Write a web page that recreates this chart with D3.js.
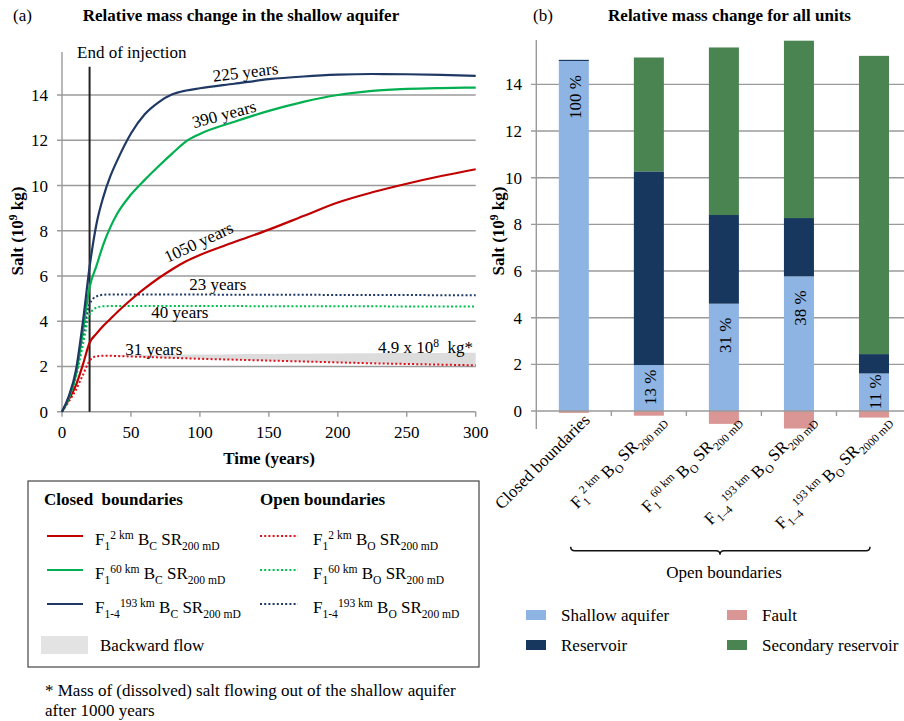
<!DOCTYPE html>
<html><head><meta charset="utf-8">
<script src="https://cdn.jsdelivr.net/npm/d3@7"></script>
<style>
body{margin:0;background:#fff}
svg{display:block}
text{font-family:"Liberation Serif","Times New Roman",serif;fill:#000;white-space:pre}
</style>
</head><body><svg id="c" width="904" height="721"></svg>
<script>
// ---------- DATA (a): salt mass in shallow aquifer, 10^9 kg ----------
const years        = [0, 5, 10, 15, 20, 25, 30, 35, 40, 50, 60, 70, 80, 90, 100, 125, 150, 175, 200, 225, 250, 275, 300];
const closed2km    = [0, 0.55, 1.15, 2.05, 3.05, 3.45, 3.8, 4.1, 4.4, 4.95, 5.45, 5.9, 6.3, 6.65, 6.93, 7.5, 8.05, 8.65, 9.25, 9.7, 10.08, 10.42, 10.72];
const closed60km   = [0, 0.6, 1.6, 3.5, 5.5, 6.45, 7.4, 8.15, 8.75, 9.6, 10.25, 10.85, 11.42, 11.95, 12.28, 12.82, 13.3, 13.7, 14.0, 14.18, 14.27, 14.31, 14.33];
const closed193km  = [0, 0.7, 1.8, 3.9, 6.4, 8.3, 9.5, 10.4, 11.1, 12.3, 13.15, 13.68, 14.03, 14.2, 14.3, 14.5, 14.7, 14.82, 14.9, 14.93, 14.92, 14.89, 14.85];
const open2km      = [0, 0.45, 0.95, 1.6, 2.25, 2.45, 2.47, 2.47, 2.46, 2.44, 2.42, 2.4, 2.38, 2.36, 2.34, 2.3, 2.26, 2.22, 2.18, 2.14, 2.11, 2.08, 2.05];
const open60km     = [0, 0.6, 1.5, 2.9, 4.3, 4.6, 4.66, 4.67, 4.67, 4.67, 4.67, 4.67, 4.67, 4.67, 4.67, 4.67, 4.66, 4.66, 4.66, 4.66, 4.65, 4.65, 4.65];
const open193km    = [0, 0.65, 1.7, 3.3, 4.75, 5.1, 5.17, 5.18, 5.18, 5.18, 5.18, 5.18, 5.18, 5.18, 5.18, 5.17, 5.17, 5.17, 5.16, 5.16, 5.16, 5.15, 5.15];
const backwardTop  = [null, null, null, null, null, null, 2.49, 2.5, 2.5, 2.51, 2.51, 2.52, 2.52, 2.53, 2.53, 2.54, 2.55, 2.56, 2.57, 2.58, 2.59, 2.6, 2.61];
const xTicksA      = [0, 50, 100, 150, 200, 250, 300];
const yTicksA      = [0, 2, 4, 6, 8, 10, 12, 14];
const injectionEnd = 20;

// ---------- DATA (b): relative mass change for all units, 10^9 kg ----------
const categories      = ["Closed boundaries", "F1 2km BO SR200", "F1 60km BO SR200", "F1-4 193km BO SR200", "F1-4 193km BO SR2000"];
const shallowAquifer  = [15.0, 1.97, 4.6, 5.77, 1.61];
const reservoir       = [0.05, 8.3, 3.8, 2.5, 0.83];
const secondaryRes    = [0, 4.88, 7.18, 7.6, 12.78];
const fault           = [-0.08, -0.2, -0.55, -0.75, -0.28];
const shallowPercent  = ["100 %", "13 %", "31 %", "38 %", "11 %"];
const yTicksB         = [0, 2, 4, 6, 8, 10, 12, 14];

// rich-text parts for category labels
const categoryParts = [
  [{t:"Closed boundaries"}],
  [{t:"F"},{t:"1",s:"sub"},{t:"2 km",s:"sup"},{t:" B"},{t:"O",s:"sub"},{t:" SR"},{t:"200 mD",s:"sub"}],
  [{t:"F"},{t:"1",s:"sub"},{t:"60 km",s:"sup"},{t:" B"},{t:"O",s:"sub"},{t:" SR"},{t:"200 mD",s:"sub"}],
  [{t:"F"},{t:"1–4",s:"sub"},{t:"193 km",s:"sup"},{t:" B"},{t:"O",s:"sub"},{t:" SR"},{t:"200 mD",s:"sub"}],
  [{t:"F"},{t:"1–4",s:"sub"},{t:"193 km",s:"sup"},{t:" B"},{t:"O",s:"sub"},{t:" SR"},{t:"2000 mD",s:"sub"}]
];

// ---------- helpers ----------
const svg = d3.select("#c");
const GRID = "#9a9a9a";
const FS = 17;
function rich(t, parts, size){
  let off = 0;
  parts.forEach(p => {
    const target = p.s === "sub" ? 0.28*size : p.s === "sup" ? -0.38*size : 0;
    t.append("tspan").attr("dy", (target - off).toFixed(2))
      .attr("font-size", p.s ? size*0.68 : size).text(p.t);
    off = target;
  });
  return t;
}

// ================= PANEL (a) =================
const xA = d3.scaleLinear().domain([0, 300]).range([62, 475.7]);
const yA = d3.scaleLinear().domain([0, 16]).range([411.7, 49.8]);
const gA = svg.append("g");

gA.append("text").attr("x", 13).attr("y", 21).attr("font-size", FS).text("(a)");
gA.append("text").attr("x", 241).attr("y", 21).attr("text-anchor", "middle")
  .attr("font-size", FS).attr("font-weight", "bold").text("Relative mass change in the shallow aquifer");

// gridlines
gA.selectAll(".gy").data(yTicksA.filter(d => d > 0)).join("line")
  .attr("x1", 57).attr("x2", xA(300)).attr("y1", d => yA(d)).attr("y2", d => yA(d))
  .attr("stroke", GRID).attr("stroke-width", 1.4);
// axes
gA.append("line").attr("x1", xA(0)).attr("x2", xA(0)).attr("y1", 52).attr("y2", yA(0))
  .attr("stroke", GRID).attr("stroke-width", 1.4);
gA.append("line").attr("x1", 57).attr("x2", xA(300)).attr("y1", yA(0)).attr("y2", yA(0))
  .attr("stroke", GRID).attr("stroke-width", 1.4);
gA.selectAll(".tx").data(xTicksA).join("line")
  .attr("x1", d => xA(d)).attr("x2", d => xA(d)).attr("y1", yA(0)).attr("y2", yA(0) + 5)
  .attr("stroke", GRID).attr("stroke-width", 1.4);
gA.selectAll(".lx").data(xTicksA).join("text")
  .attr("x", d => xA(d)).attr("y", 437.5).attr("text-anchor", "middle").attr("font-size", FS).text(d => d);
gA.selectAll(".ly").data(yTicksA).join("text")
  .attr("x", 48).attr("y", d => yA(d) + 6).attr("text-anchor", "end").attr("font-size", FS).text(d => d);
gA.append("text").attr("x", 269).attr("y", 464).attr("text-anchor", "middle")
  .attr("font-size", FS).attr("font-weight", "bold").text("Time (years)");
rich(gA.append("text").attr("transform", "translate(23,231) rotate(-90)").attr("text-anchor", "middle")
  .attr("font-weight", "bold"), [{t:"Salt (10"},{t:"9",s:"sup"},{t:" kg)"}], FS);

// backward-flow band
const bandArea = d3.area()
  .defined((d, i) => backwardTop[i] !== null)
  .x((d, i) => xA(years[i])).y0((d, i) => yA(open2km[i])).y1((d, i) => yA(backwardTop[i]))
  .curve(d3.curveMonotoneX);
gA.append("path").datum(years).attr("d", bandArea).attr("fill", "#dcdcdc");

// end of injection line
gA.append("line").attr("x1", xA(injectionEnd)).attr("x2", xA(injectionEnd)).attr("y1", 66.7).attr("y2", yA(0))
  .attr("stroke", "#222").attr("stroke-width", 2);
gA.append("text").attr("x", 77).attr("y", 58).attr("font-size", FS).text("End of injection");

const line = vals => d3.line().x((d, i) => xA(years[i])).y(d => yA(d)).curve(d3.curveMonotoneX)(vals);
const series = [
  {v: open2km,     c: "#e0101a", dash: true},
  {v: open60km,    c: "#00c050", dash: true},
  {v: open193km,   c: "#1f3a68", dash: true},
  {v: closed2km,   c: "#c00000", dash: false},
  {v: closed60km,  c: "#00b050", dash: false},
  {v: closed193km, c: "#1f3864", dash: false}
];
gA.selectAll(".ser").data(series).join("path")
  .attr("d", d => line(d.v)).attr("fill", "none").attr("stroke", d => d.c)
  .attr("stroke-width", d => d.dash ? 2 : 2.2)
  .attr("stroke-dasharray", d => d.dash ? "2,2.2" : null);

// annotations
const ann = [
  {t: "225 years",  x: 133, y: 15.02, r: -7},
  {t: "390 years",  x: 117.5, y: 13.16, r: -15},
  {t: "1050 years", x: 99, y: 7.5, r: -25},
  {t: "23 years",   x: 113, y: 5.65, r: 0},
  {t: "40 years",   x: 85.5, y: 4.4, r: 0},
  {t: "31 years",   x: 66.5, y: 2.79, r: 0}
];
gA.selectAll(".ann").data(ann).join("text")
  .attr("transform", d => `translate(${xA(d.x)},${yA(d.y)}) rotate(${d.r})`)
  .attr("text-anchor", "middle").attr("dy", "0.35em").attr("font-size", FS).text(d => d.t);
rich(gA.append("text").attr("x", 378).attr("y", 353).attr("font-size", FS),
  [{t:"4.9 x 10"},{t:"8",s:"sup"},{t:"  kg*"}], FS);

// legend box (a)
gA.append("rect").attr("x", 28).attr("y", 481).attr("width", 451).attr("height", 186)
  .attr("fill", "none").attr("stroke", "#444").attr("stroke-width", 1.2);
gA.append("text").attr("x", 44).attr("y", 505).attr("font-size", FS).attr("font-weight", "bold").text("Closed  boundaries");
gA.append("text").attr("x", 260).attr("y", 505).attr("font-size", FS).attr("font-weight", "bold").text("Open boundaries");
const legA = [
  {c: "#c00000", f: "1", k: "2 km"},
  {c: "#00b050", f: "1", k: "60 km"},
  {c: "#1f3864", f: "1-4", k: "193 km"}
];
legA.forEach((d, i) => {
  const ly = 536 + i * 34;
  gA.append("line").attr("x1", 47).attr("x2", 83).attr("y1", ly).attr("y2", ly).attr("stroke", d.c).attr("stroke-width", 2.2);
  rich(gA.append("text").attr("x", 95).attr("y", ly + 9),
    [{t:"F"},{t:d.f,s:"sub"},{t:d.k,s:"sup"},{t:" B"},{t:"C",s:"sub"},{t:" SR"},{t:"200 mD",s:"sub"}], FS);
  gA.append("line").attr("x1", 260).attr("x2", 298).attr("y1", ly).attr("y2", ly).attr("stroke", series[i].c)
    .attr("stroke-width", 2).attr("stroke-dasharray", "2,2.2");
  rich(gA.append("text").attr("x", 313).attr("y", ly + 9),
    [{t:"F"},{t:d.f,s:"sub"},{t:d.k,s:"sup"},{t:" B"},{t:"O",s:"sub"},{t:" SR"},{t:"200 mD",s:"sub"}], FS);
});
gA.append("rect").attr("x", 41).attr("y", 636).attr("width", 47).attr("height", 18).attr("fill", "#e3e3e3");
gA.append("text").attr("x", 100).attr("y", 651).attr("font-size", FS).text("Backward flow");
gA.append("text").attr("x", 45).attr("y", 696).attr("font-size", FS).text("* Mass of (dissolved) salt flowing out of the shallow aquifer");
gA.append("text").attr("x", 45).attr("y", 716).attr("font-size", FS).text("after 1000 years");

// ================= PANEL (b) =================
const xB = d3.scaleBand().domain(categories).range([536.3, 911.5]).paddingInner(0.6).paddingOuter(0.3);
const yB = d3.scaleLinear().domain([-0.77, 15.9]).range([429, 40]);
const gB = svg.append("g");

gB.append("text").attr("x", 533).attr("y", 21).attr("font-size", FS).text("(b)");
gB.append("text").attr("x", 729.5).attr("y", 21).attr("text-anchor", "middle")
  .attr("font-size", FS).attr("font-weight", "bold").text("Relative mass change for all units");

gB.selectAll(".gy").data(yTicksB.filter(d => d > 0)).join("line")
  .attr("x1", 531).attr("x2", 904).attr("y1", d => yB(d)).attr("y2", d => yB(d))
  .attr("stroke", GRID).attr("stroke-width", 1.4);
gB.selectAll(".ly").data(yTicksB).join("text")
  .attr("x", 522).attr("y", d => yB(d) + 6).attr("text-anchor", "end").attr("font-size", FS).text(d => d);
rich(gB.append("text").attr("transform", "translate(504,231) rotate(-90)").attr("text-anchor", "middle")
  .attr("font-weight", "bold"), [{t:"Salt (10"},{t:"9",s:"sup"},{t:" kg)"}], FS);

// stacked bars
const rows = categories.map((c, i) => ({cat: c, shallow: shallowAquifer[i], reservoir: reservoir[i], secondary: secondaryRes[i], fault: fault[i]}));
const keys = ["shallow", "reservoir", "secondary", "fault"];
const colors = {shallow: "#8eb4e3", reservoir: "#17375e", secondary: "#4a8450", fault: "#d99694"};
const stacked = d3.stack().keys(keys).offset(d3.stackOffsetDiverging)(rows);
gB.selectAll(".layer").data(stacked).join("g").attr("fill", d => colors[d.key])
  .selectAll("rect").data(d => d).join("rect")
  .attr("x", d => xB(d.data.cat)).attr("width", xB.bandwidth())
  .attr("y", d => yB(Math.max(d[0], d[1]))).attr("height", d => Math.abs(yB(d[0]) - yB(d[1])));

// axes b
gB.append("line").attr("x1", 536.3).attr("x2", 536.3).attr("y1", 40).attr("y2", 429).attr("stroke", GRID).attr("stroke-width", 1.4);
gB.append("line").attr("x1", 531).attr("x2", 904).attr("y1", yB(0)).attr("y2", yB(0)).attr("stroke", GRID).attr("stroke-width", 1.4);
gB.selectAll(".tk").data(categories.slice(1)).join("line")
  .attr("x1", d => xB(d) - xB.step() * 0.3).attr("x2", d => xB(d) - xB.step() * 0.3)
  .attr("y1", yB(0)).attr("y2", yB(0) + 5).attr("stroke", GRID).attr("stroke-width", 1.4);

// percent labels
gB.selectAll(".pct").data(rows).join("text")
  .attr("transform", (d, i) => {
    const top = yB(d.shallow);
    const segH = yB(0) - top;
    const off = Math.max(1, Math.min(14, (segH - 37) / 2));
    return `translate(${xB(d.cat) + xB.bandwidth() / 2 + 7},${top + off}) rotate(-90)`;
  })
  .attr("text-anchor", "end").attr("font-size", FS).text((d, i) => shallowPercent[i]);

// category labels
categories.forEach((c, i) => {
  const cx = xB(c) + xB.bandwidth() / 2;
  const t = gB.append("text").attr("transform", `translate(${cx + 17},${421}) rotate(-45)`)
    .attr("text-anchor", "end");
  rich(t, categoryParts[i], FS);
});

// bracket
const bx0 = 570.7, bx1 = 870, bm = 720, by = 550.7;
gB.append("path")
  .attr("d", `M${bx0},${by - 4} Q${bx0},${by} ${bx0 + 4},${by} L${bm - 4},${by} Q${bm},${by} ${bm},${by + 4} Q${bm},${by} ${bm + 4},${by} L${bx1 - 4},${by} Q${bx1},${by} ${bx1},${by - 4}`)
  .attr("fill", "none").attr("stroke", "#111").attr("stroke-width", 1.5);
gB.append("text").attr("x", 724).attr("y", 578).attr("text-anchor", "middle").attr("font-size", FS).text("Open boundaries");

// legend b
const legB = [
  {k: "shallow", t: "Shallow aquifer", x: 526, y: 610},
  {k: "fault", t: "Fault", x: 727, y: 610},
  {k: "reservoir", t: "Reservoir", x: 526, y: 640},
  {k: "secondary", t: "Secondary reservoir", x: 727, y: 640}
];
legB.forEach(d => {
  gB.append("rect").attr("x", d.x).attr("y", d.y).attr("width", 20).attr("height", 10).attr("fill", colors[d.k]);
  gB.append("text").attr("x", d.x + 35).attr("y", d.y + 11).attr("font-size", FS).text(d.t);
});
</script>
</body></html>
